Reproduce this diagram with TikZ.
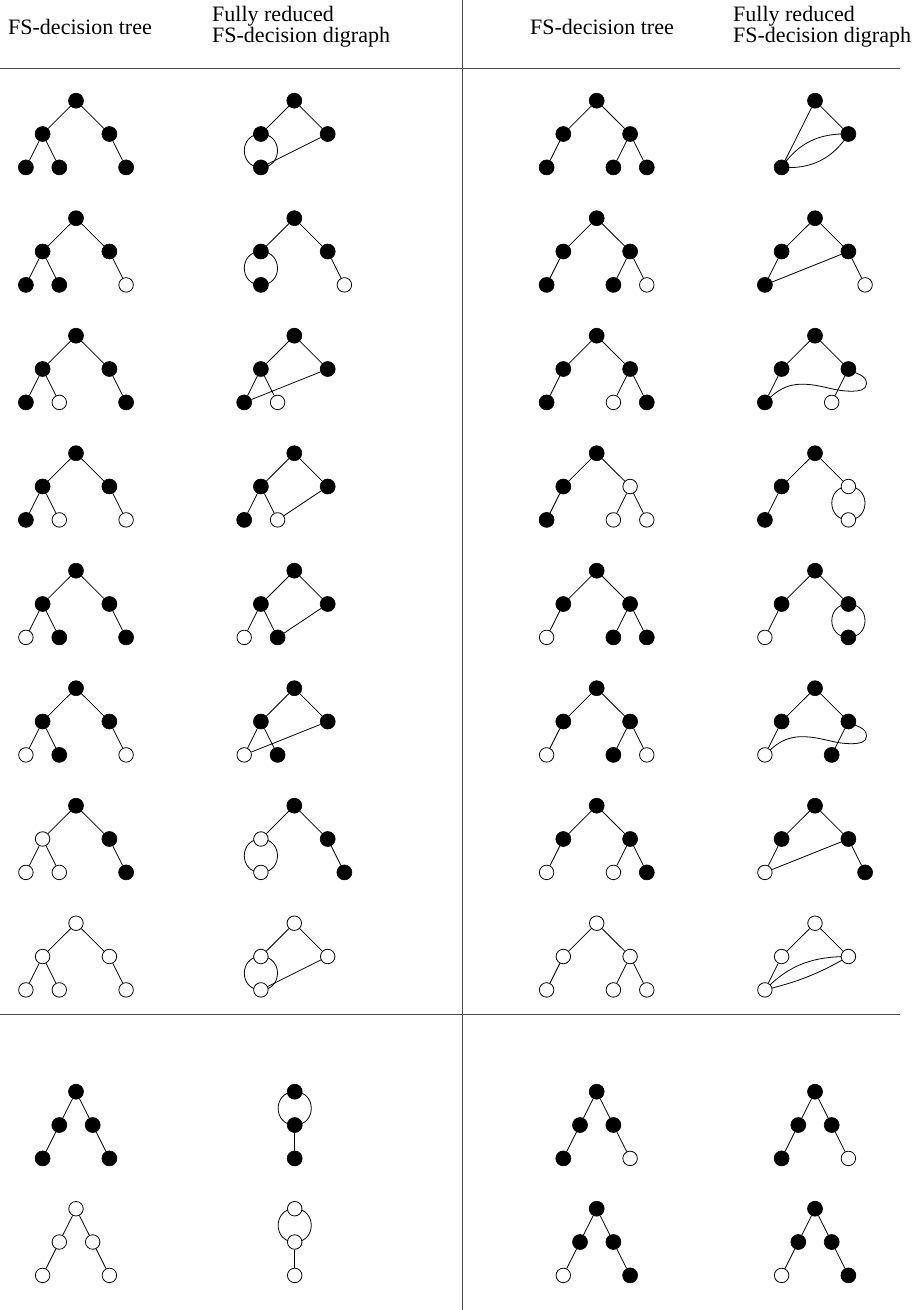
\documentclass[tikz,border=0pt]{standalone}
\usepackage{fontspec}
\setmainfont{Liberation Serif}
\usetikzlibrary{backgrounds}
\tikzset{
  bn/.style={circle, fill=black, draw=black, line width=0.6pt, minimum size=15pt, inner sep=0pt},
  wn/.style={circle, fill=white, draw=black, line width=0.8pt, minimum size=14.5pt, inner sep=0pt},
  ed/.style={line width=0.8pt},
  rulel/.style={line width=1pt, draw=black!70},
  hd/.style={font=\fontsize{22}{24}\selectfont, anchor=base west, inner sep=0pt},
}
% left-type tree: root, L, R, LL, LR, RR
\newcommand\ltree[9]{%
  \node[#4] (#1r) at (#2,#3) {};
  \node[#5] (#1l) at (#2-33.4,#3-33.3) {};
  \node[#6] (#1R) at (#2+33.4,#3-33.3) {};
  \node[#7] (#1ll) at (#2-50.1,#3-66.7) {};
  \node[#8] (#1lr) at (#2-16.7,#3-66.7) {};
  \node[#9] (#1rr) at (#2+50.1,#3-66.7) {};
  \begin{pgfonlayer}{background}
  \draw[ed] (#1r)--(#1l) (#1r)--(#1R) (#1l)--(#1ll) (#1l)--(#1lr) (#1R)--(#1rr);
  \end{pgfonlayer}}
% right-type tree: root, L, R, LL, RL, RR
\newcommand\rtree[9]{%
  \node[#4] (#1r) at (#2,#3) {};
  \node[#5] (#1l) at (#2-33.4,#3-33.3) {};
  \node[#6] (#1R) at (#2+33.4,#3-33.3) {};
  \node[#7] (#1ll) at (#2-50.1,#3-66.7) {};
  \node[#8] (#1rl) at (#2+16.7,#3-66.7) {};
  \node[#9] (#1rr) at (#2+50.1,#3-66.7) {};
  \begin{pgfonlayer}{background}
  \draw[ed] (#1r)--(#1l) (#1r)--(#1R) (#1l)--(#1ll) (#1R)--(#1rl) (#1R)--(#1rr);
  \end{pgfonlayer}}
% small tree: root, L, R, LL, RR
\newcommand\stree[8]{%
  \node[#4] (#1r) at (#2,#3) {};
  \node[#5] (#1l) at (#2-16.7,#3-33.3) {};
  \node[#6] (#1R) at (#2+16.7,#3-33.3) {};
  \node[#7] (#1ll) at (#2-33.4,#3-66.7) {};
  \node[#8] (#1rr) at (#2+33.4,#3-66.7) {};
  \begin{pgfonlayer}{background}
  \draw[ed] (#1r)--(#1l) (#1r)--(#1R) (#1l)--(#1ll) (#1R)--(#1rr);
  \end{pgfonlayer}}
% three top nodes of a digraph
\newcommand\dtop[6]{%
  \node[#4] (#1r) at (#2,#3) {};
  \node[#5] (#1l) at (#2-33.4,#3-33.3) {};
  \node[#6] (#1R) at (#2+33.4,#3-33.3) {};
  \begin{pgfonlayer}{background}
  \draw[ed] (#1r)--(#1l) (#1r)--(#1R);
  \end{pgfonlayer}}
\newcommand\dbl[2]{\draw[ed] (#1.center) to[out=180,in=180,looseness=1.7] (#2.center) to[out=0,in=0,looseness=1.7] (#1.center);}
\newcommand\sweep[3]{\draw[ed] (#1.center) to[out=-35,in=90] (866.5,#3-48) to[out=-90,in=0] (852,#3-55.5) to[out=180,in=0] (802,#3-48.5) to[out=180,in=45] (#2.center);}
\newcommand\bg[1]{\begin{pgfonlayer}{background}#1\end{pgfonlayer}}
\begin{document}
\begin{tikzpicture}[x=1pt,y=1pt]
\useasboundingbox (0,0) rectangle (917,-1310);
% headers and rules
\node[hd] (h1) at (8,-34) {FS-decision tree};
\node[hd] (h2) at (212,-21) {Fully reduced};
\node[hd] (h3) at (212,-42) {FS-decision digraph};
\node[hd] (h4) at (530,-34) {FS-decision tree};
\node[hd] (h5) at (733,-21) {Fully reduced};
\node[hd] (h6) at (733,-42) {FS-decision digraph};
\draw[rulel] (0,-68) -- (900,-68);
\draw[rulel] (0,-1014) -- (900,-1014);
\draw[rulel] (462.5,0) -- (462.5,-1310);
% ---------------- left trees
\ltree{a1}{76}{-100.7}{bn}{bn}{bn}{bn}{bn}{bn}
\ltree{a2}{76}{-218.2}{bn}{bn}{bn}{bn}{bn}{wn}
\ltree{a3}{76}{-335.7}{bn}{bn}{bn}{bn}{wn}{bn}
\ltree{a4}{76}{-453.2}{bn}{bn}{bn}{bn}{wn}{wn}
\ltree{a5}{76}{-570.7}{bn}{bn}{bn}{wn}{bn}{bn}
\ltree{a6}{76}{-688.2}{bn}{bn}{bn}{wn}{bn}{wn}
\ltree{a7}{76}{-805.7}{bn}{wn}{bn}{wn}{wn}{bn}
\ltree{a8}{76}{-923.2}{wn}{wn}{wn}{wn}{wn}{wn}
% ---------------- left digraphs
\dtop{d1}{294.3}{-100.7}{bn}{bn}{bn}
\node[bn] (d1b) at (260.9,-167.4) {};
\bg{\dbl{d1l}{d1b}\draw[ed] (d1R)--(d1b);}
\dtop{d2}{294.3}{-218.2}{bn}{bn}{bn}
\node[bn] (d2b) at (260.9,-284.9) {};
\node[wn] (d2rr) at (344.4,-284.9) {};
\bg{\dbl{d2l}{d2b}\draw[ed] (d2R)--(d2rr);}
\dtop{d3}{294.3}{-335.7}{bn}{bn}{bn}
\node[bn] (d3ll) at (244.2,-402.4) {};
\node[wn] (d3lr) at (277.6,-402.4) {};
\bg{\draw[ed] (d3l)--(d3ll) (d3l)--(d3lr) (d3R)--(d3ll);}
\dtop{d4}{294.3}{-453.2}{bn}{bn}{bn}
\node[bn] (d4ll) at (244.2,-519.9) {};
\node[wn] (d4lr) at (277.6,-519.9) {};
\bg{\draw[ed] (d4l)--(d4ll) (d4l)--(d4lr) (d4R)--(d4lr);}
\dtop{d5}{294.3}{-570.7}{bn}{bn}{bn}
\node[wn] (d5ll) at (244.2,-637.4) {};
\node[bn] (d5lr) at (277.6,-637.4) {};
\bg{\draw[ed] (d5l)--(d5ll) (d5l)--(d5lr) (d5R)--(d5lr);}
\dtop{d6}{294.3}{-688.2}{bn}{bn}{bn}
\node[wn] (d6ll) at (244.2,-754.9) {};
\node[bn] (d6lr) at (277.6,-754.9) {};
\bg{\draw[ed] (d6l)--(d6ll) (d6l)--(d6lr) (d6R)--(d6ll);}
\dtop{d7}{294.3}{-805.7}{bn}{wn}{bn}
\node[wn] (d7b) at (260.9,-872.4) {};
\node[bn] (d7rr) at (344.4,-872.4) {};
\bg{\dbl{d7l}{d7b}\draw[ed] (d7R)--(d7rr);}
\dtop{d8}{294.3}{-923.2}{wn}{wn}{wn}
\node[wn] (d8b) at (260.9,-989.9) {};
\bg{\dbl{d8l}{d8b}\draw[ed] (d8R)--(d8b);}
% ---------------- right trees
\rtree{c1}{596.7}{-100.7}{bn}{bn}{bn}{bn}{bn}{bn}
\rtree{c2}{596.7}{-218.2}{bn}{bn}{bn}{bn}{bn}{wn}
\rtree{c3}{596.7}{-335.7}{bn}{bn}{bn}{bn}{wn}{bn}
\rtree{c4}{596.7}{-453.2}{bn}{bn}{wn}{bn}{wn}{wn}
\rtree{c5}{596.7}{-570.7}{bn}{bn}{bn}{wn}{bn}{bn}
\rtree{c6}{596.7}{-688.2}{bn}{bn}{bn}{wn}{bn}{wn}
\rtree{c7}{596.7}{-805.7}{bn}{bn}{bn}{wn}{wn}{bn}
\rtree{c8}{596.7}{-923.2}{wn}{wn}{wn}{wn}{wn}{wn}
% ---------------- right digraphs
\node[bn] (e1r) at (815,-100.7) {};
\node[bn] (e1R) at (848.4,-134) {};
\node[bn] (e1b) at (781.6,-167.4) {};
\bg{\draw[ed] (e1r)--(e1R) (e1r)--(e1b);
  \draw[ed] (e1b.center) to[out=56,in=178] (e1R.center);
  \draw[ed] (e1b.center) to[out=-4,in=238] (e1R.center);}
\dtop{e2}{815}{-218.2}{bn}{bn}{bn}
\node[bn] (e2ll) at (764.9,-284.9) {};
\node[wn] (e2rr) at (865.1,-284.9) {};
\bg{\draw[ed] (e2l)--(e2ll) (e2R)--(e2rr) (e2R)--(e2ll);}
\dtop{e3}{815}{-335.7}{bn}{bn}{bn}
\node[bn] (e3ll) at (764.9,-402.4) {};
\node[wn] (e3rl) at (831.7,-402.4) {};
\bg{\draw[ed] (e3l)--(e3ll) (e3R)--(e3rl);\sweep{e3R}{e3ll}{-335.7}}
\dtop{e4}{815}{-453.2}{bn}{bn}{wn}
\node[bn] (e4ll) at (764.9,-519.9) {};
\node[wn] (e4b) at (848.4,-519.9) {};
\bg{\draw[ed] (e4l)--(e4ll);\dbl{e4R}{e4b}}
\dtop{e5}{815}{-570.7}{bn}{bn}{bn}
\node[wn] (e5ll) at (764.9,-637.4) {};
\node[bn] (e5b) at (848.4,-637.4) {};
\bg{\draw[ed] (e5l)--(e5ll);\dbl{e5R}{e5b}}
\dtop{e6}{815}{-688.2}{bn}{bn}{bn}
\node[wn] (e6ll) at (764.9,-754.9) {};
\node[bn] (e6rl) at (831.7,-754.9) {};
\bg{\draw[ed] (e6l)--(e6ll) (e6R)--(e6rl);\sweep{e6R}{e6ll}{-688.2}}
\dtop{e7}{815}{-805.7}{bn}{bn}{bn}
\node[wn] (e7ll) at (764.9,-872.4) {};
\node[bn] (e7rr) at (865.1,-872.4) {};
\bg{\draw[ed] (e7l)--(e7ll) (e7R)--(e7rr) (e7R)--(e7ll);}
\dtop{e8}{815}{-923.2}{wn}{wn}{wn}
\node[wn] (e8ll) at (764.9,-989.9) {};
\bg{\draw[ed] (e8l)--(e8ll);
  \draw[ed] (e8ll.center) to[out=46,in=180] (e8R.center);
  \draw[ed] (e8ll.center) to[out=14,in=210] (e8R.center);}
% ---------------- bottom section
\stree{f1}{76}{-1091.7}{bn}{bn}{bn}{bn}{bn}
\stree{f2}{76}{-1208.7}{wn}{wn}{wn}{wn}{wn}
\node[bn] (g1a) at (294.7,-1091.7) {};
\node[bn] (g1b) at (294.7,-1125) {};
\node[bn] (g1c) at (294.7,-1158.4) {};
\bg{\dbl{g1a}{g1b}\draw[ed] (g1b)--(g1c);}
\node[wn] (g2a) at (294.7,-1208.7) {};
\node[wn] (g2b) at (294.7,-1242) {};
\node[wn] (g2c) at (294.7,-1275.4) {};
\bg{\dbl{g2a}{g2b}\draw[ed] (g2b)--(g2c);}
\stree{f3}{596.7}{-1091.7}{bn}{bn}{bn}{bn}{wn}
\stree{f4}{596.7}{-1208.7}{bn}{bn}{bn}{wn}{bn}
\stree{g3}{815}{-1091.7}{bn}{bn}{bn}{bn}{wn}
\stree{g4}{815}{-1208.7}{bn}{bn}{bn}{wn}{bn}
\end{tikzpicture}
\end{document}
